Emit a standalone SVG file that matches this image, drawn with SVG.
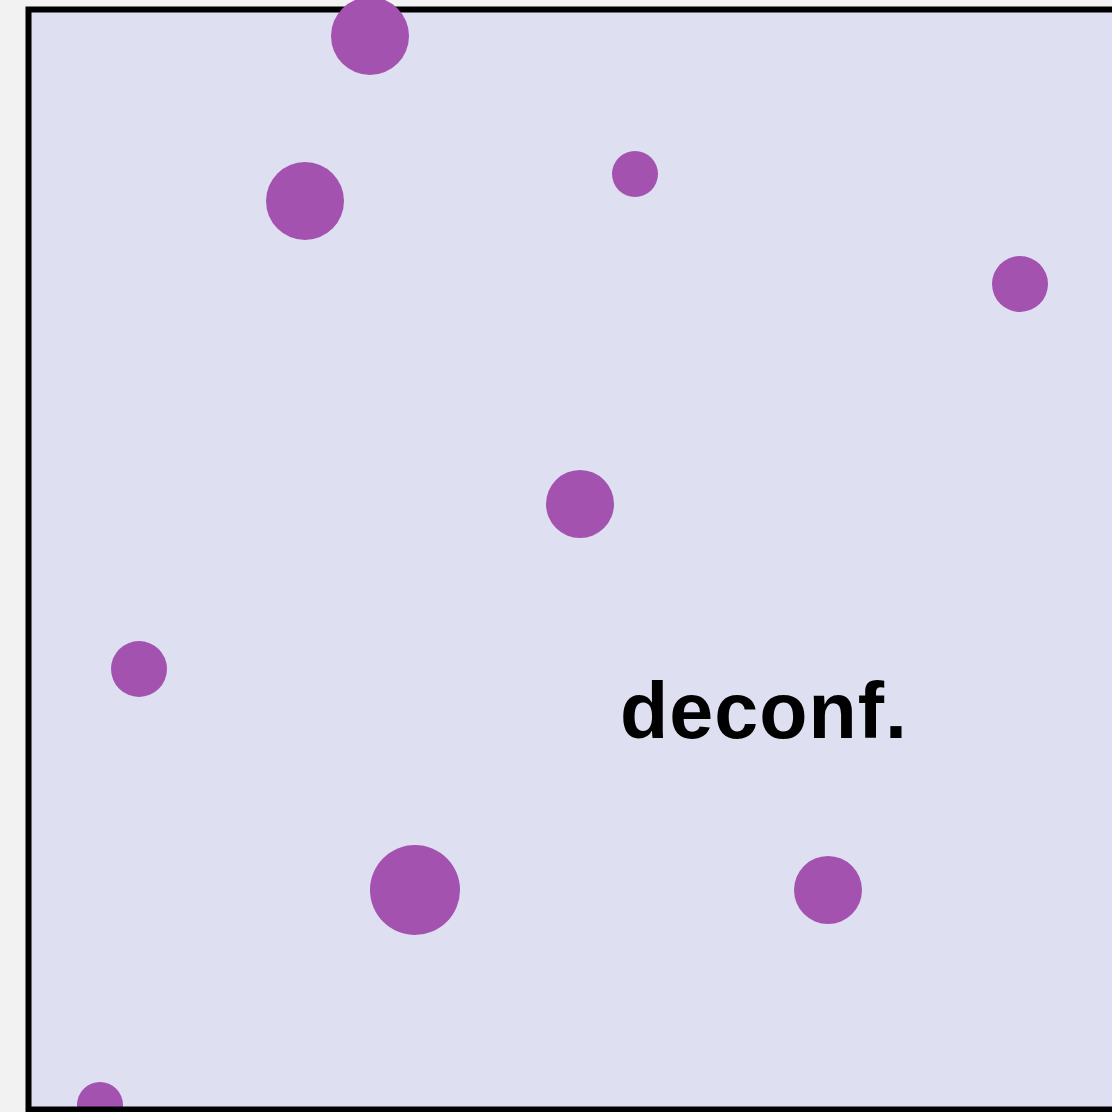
<svg xmlns="http://www.w3.org/2000/svg" width="1112" height="1112" viewBox="0 0 1112 1112">
<style>
.dot{fill:#a352b0}
.lbl{font-family:"Liberation Sans",Arial,sans-serif;font-weight:bold;font-size:79px;letter-spacing:1px;fill:#000}
</style>
<rect x="0" y="0" width="1112" height="1112" fill="#f2f2f2"/>
<g id="panel">
<rect x="28.5" y="9.5" width="1100" height="1100" fill="#dedff0"/>
</g>
<g id="dots">
<circle class="dot" cx="305" cy="201" r="39"/>
<circle class="dot" cx="635" cy="174" r="23"/>
<circle class="dot" cx="1020" cy="284" r="28"/>
<circle class="dot" cx="580" cy="504" r="34"/>
<circle class="dot" cx="139" cy="669" r="28"/>
<circle class="dot" cx="415" cy="890" r="45"/>
<circle class="dot" cx="828" cy="890" r="34"/>
<circle class="dot" cx="100" cy="1105" r="23"/>
</g>
<rect x="28.5" y="9.5" width="1100" height="1100" fill="none" stroke="#000" stroke-width="6"/>
<circle class="dot" cx="370" cy="36" r="39" clip-path="inset(3px 0 0 0)"/>
<text class="lbl" x="620" y="738">deconf.</text>
</svg>
